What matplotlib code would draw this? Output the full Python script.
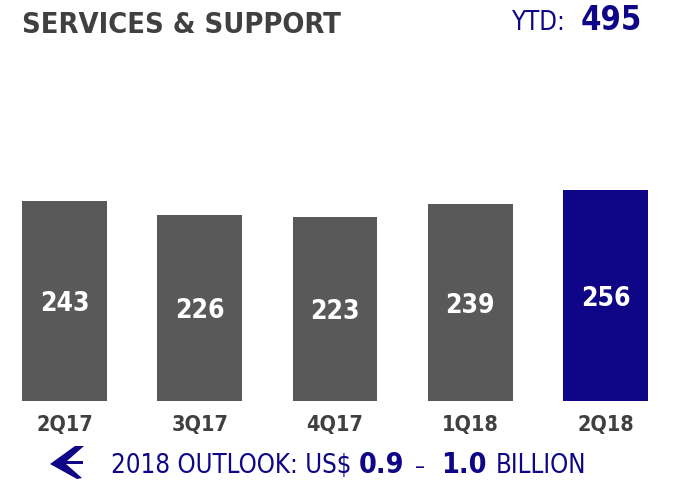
import matplotlib
matplotlib.use("Agg")
import matplotlib.pyplot as plt
from matplotlib.patches import Polygon
from matplotlib.transforms import offset_copy

categories = ["2Q17", "3Q17", "4Q17", "1Q18", "2Q18"]
values = [243, 226, 223, 239, 256]
bar_colors = ["#595959", "#595959", "#595959", "#595959", "#0F0587"]
title = "SERVICES & SUPPORT"
ytd_label = "YTD:"
ytd_value = "495"
outlook_parts = ["2018 OUTLOOK: US$", "0.9", "\u2013", "1.0", "BILLION"]

NAVY = "#0F0587"
DARK = "#404040"
FAM = "DejaVu Sans"
STRETCH = "condensed"

fig = plt.figure(figsize=(6.76, 4.8), dpi=100)
W, H = 676, 480

width = 85 / 135.4
x0 = -width / 2
x1 = len(categories) - 1 + width / 2
ax = fig.add_axes([22 / W, 79 / H, 626 / W, 221 / H])
xs = list(range(len(categories)))
ax.bar(xs, values, width=width, color=bar_colors)
ax.set_xlim(x0, x1)
ax.set_ylim(0, 221 / 0.823)
for s in ax.spines.values():
    s.set_visible(False)
ax.set_yticks([])
ax.set_xticks(xs)
ax.set_xticklabels(categories, fontsize=15.5, fontweight="bold", color=DARK,
                   family=FAM, fontstretch=STRETCH)
ax.tick_params(axis="x", length=0, pad=10)

lbl_tr = offset_copy(ax.transData, fig=fig, x=0, y=-3, units="dots")
for x, v in zip(xs, values):
    ax.text(x, v / 2, str(v), ha="center", va="center", color="white",
            fontsize=19, fontweight="bold", family=FAM, fontstretch=STRETCH,
            transform=lbl_tr)

fig.text(22 / W, 1 - 33 / H, title, ha="left", va="baseline", fontsize=20.8,
         fontweight="bold", color=DARK, family=FAM, fontstretch=STRETCH)
fig.text(512 / W, 1 - 30 / H, ytd_label, ha="left", va="baseline", fontsize=18.5,
         color=NAVY, family=FAM, fontstretch=STRETCH)
fig.text(581 / W, 1 - 30 / H, ytd_value, ha="left", va="baseline", fontsize=23.5,
         fontweight="bold", color=NAVY, family=FAM, fontstretch=STRETCH)

# footer text pieces
part_x = [111, 359, 415, 441, 496]
part_w = ["normal", "bold", "normal", "bold", "normal"]
part_fs = [18.5, 20.5, 16, 20.5, 18.5]
for txt, px, wt, fs in zip(outlook_parts, part_x, part_w, part_fs):
    fig.text(px / W, 1 - 473 / H, txt, ha="left", va="baseline",
             fontsize=fs, fontweight=wt, color=NAVY, family=FAM,
             fontstretch=STRETCH)

# logo arrow
pts = [(50, 464), (75, 446), (84, 446), (67, 461), (83, 461), (83, 464),
       (66, 464), (82, 478), (77, 479)]
logo = Polygon([(px / W, 1 - py / H) for px, py in pts], closed=True,
               transform=fig.transFigure, color=NAVY, lw=0)
fig.patches.append(logo)

fig.savefig("out.png", dpi=100)
